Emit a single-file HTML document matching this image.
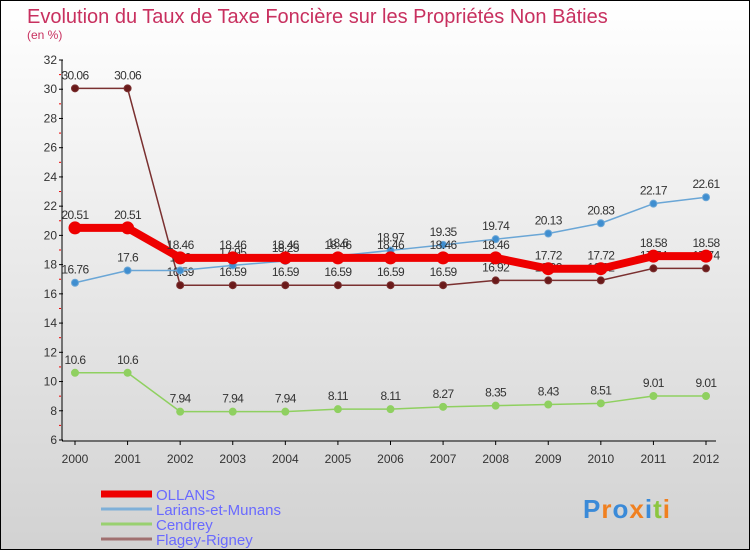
<!DOCTYPE html>
<html><head><meta charset="utf-8"><style>
html,body{margin:0;padding:0}
body{width:750px;height:550px;overflow:hidden;font-family:"Liberation Sans",sans-serif}
#wrap{position:relative;width:748px;height:548px;border:1px solid #000;background:linear-gradient(#ffffff,#d2d2d2)}
</style></head><body>
<div id="wrap">
<svg id="chart" width="748" height="548"></svg>
</div>
<script>
const years=["2000","2001","2002","2003","2004","2005","2006","2007","2008","2009","2010","2011","2012"];
const yTicks=[6,8,10,12,14,16,18,20,22,24,26,28,30,32];
const ollans=[20.51,20.51,18.46,18.46,18.46,18.46,18.46,18.46,18.46,17.72,17.72,18.58,18.58];
const larians=[16.76,17.6,17.6,17.95,18.25,18.6,18.97,19.35,19.74,20.13,20.83,22.17,22.61];
const cendrey=[10.6,10.6,7.94,7.94,7.94,8.11,8.11,8.27,8.35,8.43,8.51,9.01,9.01];
const flagey=[30.06,30.06,16.59,16.59,16.59,16.59,16.59,16.59,16.92,16.92,16.92,17.74,17.74];
const seriesNames=["OLLANS","Larians-et-Munans","Cendrey","Flagey-Rigney"];

const NS="http://www.w3.org/2000/svg";
const svg=document.getElementById('chart');
const X0=74,X1=705,Y0=439,Y1=59,VMIN=6,VMAX=32;
const xs=i=>X0+(X1-X0)*i/(years.length-1);
const ys=v=>Y0-(v-VMIN)*(Y0-Y1)/(VMAX-VMIN);
function mk(tag,attrs,name,text){const e=document.createElementNS(NS,tag);for(const k in attrs)e.setAttribute(k,attrs[k]);


if(text!==undefined)e.textContent=text;svg.appendChild(e);return e;}
mk('text',{x:26,y:22,'font-size':20,fill:'#c8305f'},'chart-title','Evolution du Taux de Taxe Foncière sur les Propriétés Non Bâties');
mk('text',{x:26,y:38,'font-size':12,fill:'#c8305f'},'y-axis-unit','(en %)');
mk('line',{x1:61,y1:Y1,x2:61,y2:Y0,stroke:'#000'},'y-axis');
mk('line',{x1:61,y1:Y0+1,x2:X1+10,y2:Y0+1,stroke:'#000'},'x-axis');
yTicks.forEach(v=>{const y=ys(v);
mk('line',{x1:58,y1:y,x2:62,y2:y,stroke:'#000'},'y-tick');
mk('text',{x:56,y:y+4,'font-size':12,fill:'#333','text-anchor':'end'},'y-tick-label',String(v));
if(v<VMAX)mk('line',{x1:58,y1:ys(v+1),x2:60,y2:ys(v+1),stroke:'#e00'},'y-minor-tick');});
years.forEach((yr,i)=>{const x=xs(i);
mk('line',{x1:x,y1:Y0+1,x2:x,y2:Y0+5,stroke:'#000'},'x-tick');
mk('text',{x:x,y:Y0+23,'font-size':12,fill:'#333','text-anchor':'middle'},'x-tick-label',yr);});
function draw(data,color,fill,w,r,name){
mk('polyline',{points:data.map((v,i)=>xs(i)+','+ys(v)).join(' '),fill:'none',stroke:color,'stroke-width':w,'stroke-linejoin':'round'},name+'-line');
data.forEach((v,i)=>{mk('circle',{cx:xs(i),cy:ys(v),r:r,fill:fill,stroke:color,'stroke-width':1},name+'-point');
mk('text',{x:xs(i),y:ys(v)-9,'font-size':12,fill:'#333','text-anchor':'middle','letter-spacing':'-0.6'},name+'-value-label',String(v));});}
draw(flagey,'#7a3030','#6a1a1a',1.5,3.5,'flagey-rigney');
draw(cendrey,'#8fd060','#8fd060',1.5,3.5,'cendrey');
draw(larians,'#6aa6d6','#3f8ed0',1.5,3.5,'larians-et-munans');
draw(ollans,'#ee0000','#ee0000',8,6,'ollans');
const lc=['#ee0000','#7fb0d8','#99d070','#a07070'],lw=[7,3,3,3];
seriesNames.forEach((n,i)=>{const y=493+i*15;
mk('line',{x1:100,y1:y,x2:151,y2:y,stroke:lc[i],'stroke-width':lw[i]},'legend-swatch');
const t=mk('text',{x:155,y:y+6,'font-size':15,fill:'#6a6aff'},'legend-entry',n);
if(i===1){t.setAttribute('textLength','125');t.setAttribute('lengthAdjust','spacingAndGlyphs');}});
const t=mk('text',{x:582,y:517,'font-size':26,'font-weight':'bold','letter-spacing':'1'},'proxiti-logo','');
[['P','#3a8ad8'],['r','#f08020'],['o','#3a8ad8'],['x','#f08020'],['i','#3a8ad8'],['t','#8cc63f'],['i','#f08020']].forEach(([c,col])=>{const s=document.createElementNS(NS,'tspan');s.setAttribute('fill',col);s.textContent=c;t.appendChild(s);});
</script>
</body></html>
